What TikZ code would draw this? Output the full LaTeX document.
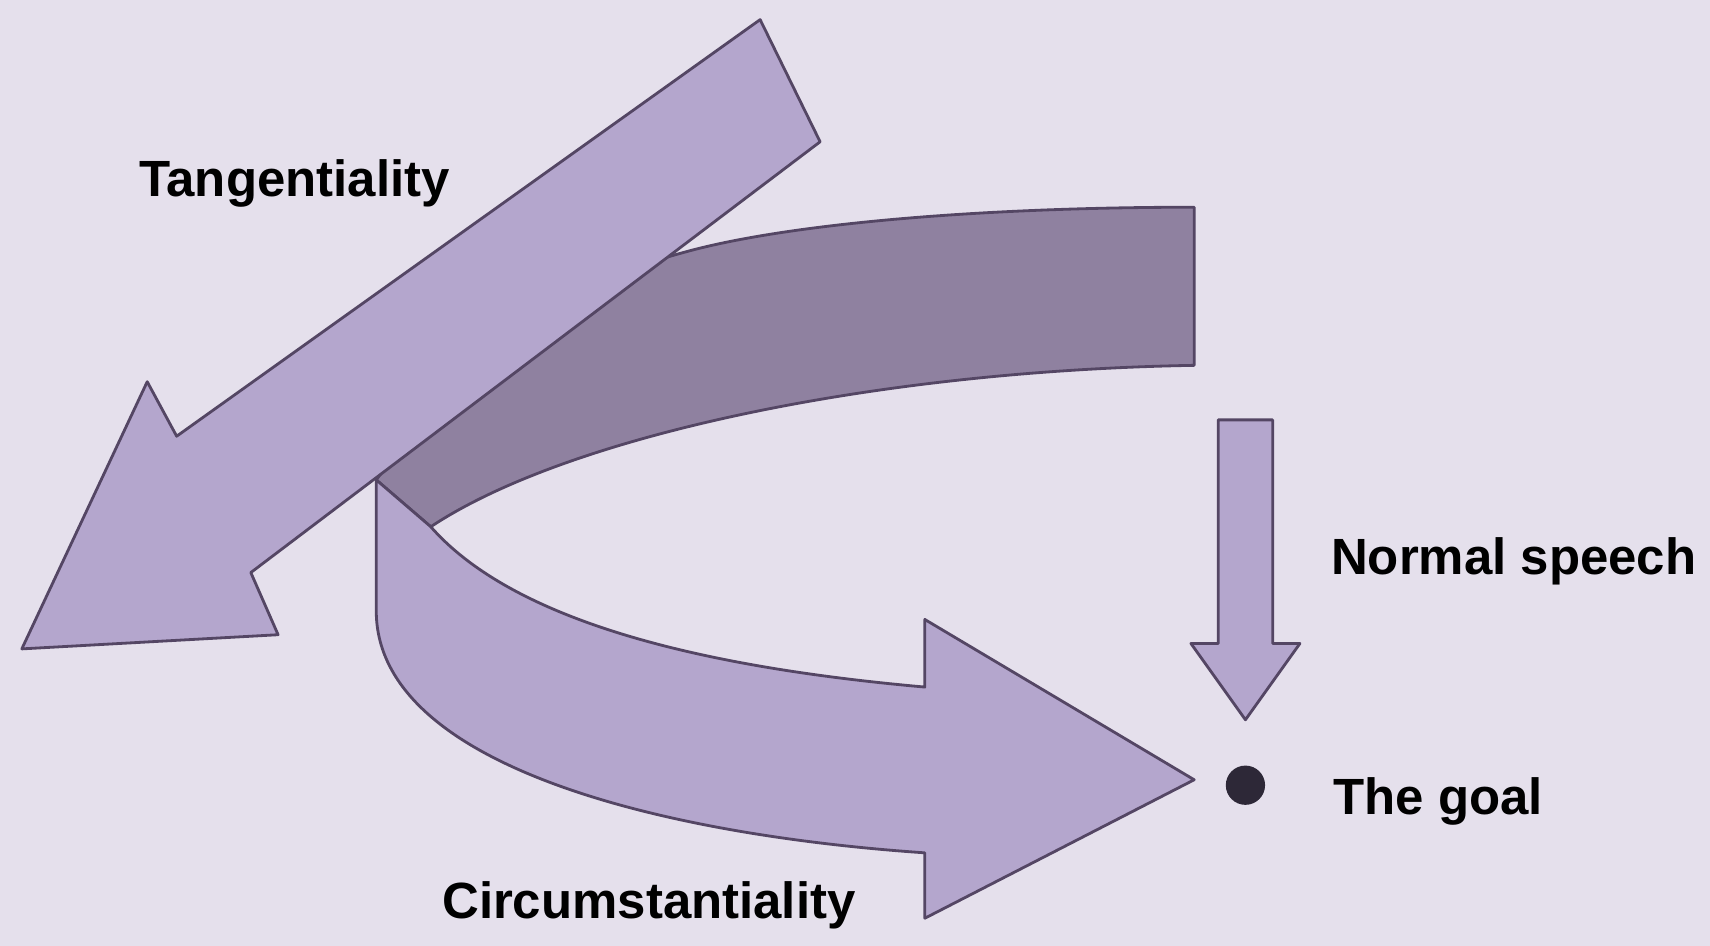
\documentclass[tikz,border=0pt]{standalone}
\usepackage{fontspec}
\setmainfont{Liberation Sans}
\usetikzlibrary{positioning}
\definecolor{thoughtBg}{RGB}{229,224,236}
\definecolor{thoughtLight}{RGB}{180,166,205}
\definecolor{thoughtDark}{RGB}{143,129,160}
\definecolor{thoughtEdge}{RGB}{84,70,100}
\definecolor{thoughtDot}{RGB}{45,40,55}

\begin{document}
\begin{tikzpicture}[
  x=0.010906cm,y=-0.010906cm,
  ribbon/.style={
    draw=thoughtEdge,
    line width=0.8pt,
    line join=round,
    fill=thoughtLight
  },
  ribbonback/.style={ribbon,fill=thoughtDark},
  txt/.style={
    inner sep=0pt,
    font=\bfseries\fontsize{14.5}{17}\selectfont
  }
]
  \fill[thoughtBg] (0,0) rectangle (1568,867);
  \useasboundingbox (0,0) rectangle (1568,867);

  % back face of the curved ribbon
  \draw[ribbonback] (1095,190) .. controls (900,190) and (720,205) .. (625,232)
    .. controls (520,260) and (420,340) .. (345,440)
    -- (395,483)
    .. controls (520,400) and (800,340) .. (1095,335) -- cycle;

  % straight arrow
  \draw[ribbon] (697,18) -- (752,130) -- (230,525) -- (255,582)
    -- (20,595) -- (135,350) -- (162,400) -- cycle;

  % front face of the curved ribbon
  \draw[ribbon] (345,440) -- (345,560)
    .. controls (345,700) and (600,765) .. (848,782)
    -- (848,842) -- (1095,715) -- (848,568) -- (848,630)
    .. controls (680,615) and (480,580) .. (395,483) -- cycle;

  % short arrow down to the goal
  \draw[ribbon] (1117,385) -- (1167,385) -- (1167,590) -- (1192,590)
    -- (1142,660) -- (1092,590) -- (1117,590) -- cycle;

  \node[circle,fill=thoughtDot,minimum size=36*0.010906cm,inner sep=0pt] (goal) at (1142,720) {};

  \node[txt] (tang) at (270,168) {Tangentiality};
  \node[txt,anchor=west] (normal) at (1220,515) {Normal speech};
  \node[txt,anchor=west] (goaltext) at (1222,735) {The goal};
  \node[txt] (circ) at (595,830) {Circumstantiality};
\end{tikzpicture}
\end{document}
